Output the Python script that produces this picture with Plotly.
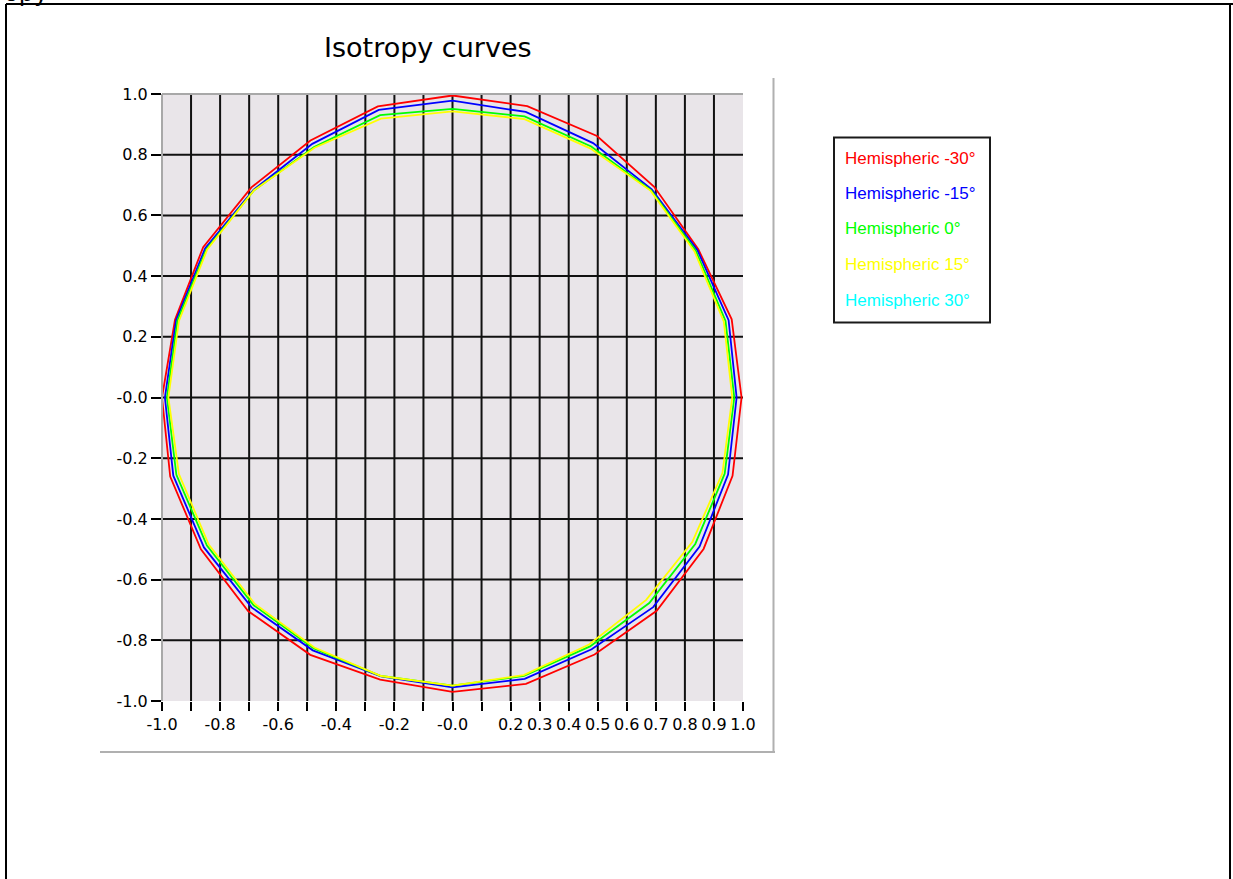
import numpy as np
import plotly.graph_objects as go

# ---------------- data ----------------
angles_deg = [0, 15, 30, 45, 60, 75, 90, 105, 120, 135, 150, 165,
              180, 195, 210, 225, 240, 255, 270, 285, 300, 315, 330, 345]

r_hemi_m30 = [0.995, 0.995, 0.977, 0.982, 0.995, 0.994, 0.995, 0.993, 0.978, 0.979, 0.991, 0.989,
              1.000, 1.006, 1.000, 0.995, 0.979, 0.962, 0.970, 0.977, 0.978, 0.994, 0.998, 0.998]
r_hemi_m15 = [0.978, 0.984, 0.973, 0.970, 0.968, 0.974, 0.978, 0.981, 0.965, 0.968, 0.983, 0.985,
              0.990, 0.995, 0.988, 0.978, 0.962, 0.951, 0.955, 0.960, 0.958, 0.977, 0.982, 0.982]
r_hemi_0 = [0.970, 0.973, 0.967, 0.966, 0.955, 0.959, 0.951, 0.963, 0.953, 0.966, 0.978, 0.980,
            0.983, 0.984, 0.976, 0.968, 0.955, 0.950, 0.949, 0.950, 0.947, 0.958, 0.965, 0.970]
r_hemi_p15 = [0.963, 0.967, 0.962, 0.964, 0.948, 0.950, 0.943, 0.951, 0.950, 0.966, 0.975, 0.975,
              0.978, 0.975, 0.969, 0.962, 0.951, 0.950, 0.949, 0.947, 0.940, 0.943, 0.953, 0.962]
r_hemi_p30 = []  # drawn nowhere in the reference

series_names = ["Hemispheric -30°", "Hemispheric -15°", "Hemispheric 0°",
                "Hemispheric 15°", "Hemispheric 30°"]
series_colors = ["#FF0000", "#0000FF", "#00FF00", "#FFFF00", "#00FFFF"]
series_radii = [r_hemi_m30, r_hemi_m15, r_hemi_0, r_hemi_p15, r_hemi_p30]

x_tick_vals = [-1.0, -0.9, -0.8, -0.7, -0.6, -0.5, -0.4, -0.3, -0.2, -0.1, 0.0,
               0.1, 0.2, 0.3, 0.4, 0.5, 0.6, 0.7, 0.8, 0.9, 1.0]
x_tick_text = ["-1.0", "", "-0.8", "", "-0.6", "", "-0.4", "", "-0.2", "", "-0.0",
               "", "0.2", "0.3", "0.4", "0.5", "0.6", "0.7", "0.8", "0.9", "1.0"]
y_tick_vals = [1.0, 0.8, 0.6, 0.4, 0.2, 0.0, -0.2, -0.4, -0.6, -0.8, -1.0]
y_tick_text = ["1.0", "0.8", "0.6", "0.4", "0.2", "-0.0", "-0.2", "-0.4", "-0.6", "-0.8", "-1.0"]

# ---------------- geometry ----------------
W, H = 1233, 879
PL, PR, PT, PB = 162, 743, 94, 701   # plot area in pixels
M = dict(l=PL, r=W - PR, t=PT, b=H - PB, pad=0, autoexpand=False)
PW, PH = PR - PL, PB - PT


def px(xp):
    return (xp - PL) / PW


def py(yp):
    return (PB - yp) / PH


fig = go.Figure()

for name, color, radii in zip(series_names, series_colors, series_radii):
    if len(radii):
        th = np.deg2rad(np.array(angles_deg + [angles_deg[0]], dtype=float))
        rr = np.array(list(radii) + [radii[0]])
        xs, ys = rr * np.cos(th), rr * np.sin(th)
    else:
        xs, ys = [], []
    fig.add_trace(go.Scatter(x=xs, y=ys, mode="lines", name=name,
                             line=dict(color=color, width=1.8), showlegend=False,
                             hoverinfo="x+y+name"))

shapes = []
# gridlines (interior only, like the reference)
for xv in x_tick_vals[1:-1]:
    shapes.append(dict(type="line", xref="x", yref="paper", x0=xv, x1=xv, y0=0, y1=1,
                       line=dict(color="#111111", width=2), layer="below"))
for yv in y_tick_vals[1:-1]:
    shapes.append(dict(type="line", xref="paper", yref="y", x0=0, x1=1, y0=yv, y1=yv,
                       line=dict(color="#111111", width=2), layer="below"))
# plot top / left sunken border
shapes.append(dict(type="line", xref="paper", yref="paper", x0=0, x1=1, y0=1, y1=1,
                   line=dict(color="#A8A8A8", width=2)))
shapes.append(dict(type="line", xref="paper", yref="paper", x0=0, x1=0, y0=0, y1=1,
                   line=dict(color="#A8A8A8", width=2)))
# chart panel border (bottom / right)
shapes.append(dict(type="line", xref="paper", yref="paper", x0=px(100), x1=px(775), y0=py(752), y1=py(752),
                   line=dict(color="#B0B0B0", width=2)))
shapes.append(dict(type="line", xref="paper", yref="paper", x0=px(773.5), x1=px(773.5), y0=py(78), y1=py(752),
                   line=dict(color="#B0B0B0", width=2)))
# outer window frame
shapes.append(dict(type="line", xref="paper", yref="paper", x0=px(6), x1=px(6), y0=py(4), y1=py(H + 5),
                   line=dict(color="#000000", width=2)))
shapes.append(dict(type="line", xref="paper", yref="paper", x0=px(6), x1=px(W + 5), y0=py(4), y1=py(4),
                   line=dict(color="#000000", width=2)))
shapes.append(dict(type="line", xref="paper", yref="paper", x0=px(1230), x1=px(1230), y0=py(4), y1=py(H + 5),
                   line=dict(color="#000000", width=2)))
# legend box
shapes.append(dict(type="rect", xref="paper", yref="paper", x0=px(834), x1=px(990), y0=py(137.5), y1=py(322.5),
                   line=dict(color="#1A1A1A", width=2), fillcolor="white"))

annotations = [
    dict(text="Isotropy curves", x=px(428), y=py(48), xref="paper", yref="paper",
         xanchor="center", yanchor="middle", showarrow=False,
         font=dict(family="DejaVu Sans", size=27, color="#000000")),
    # window caption above the frame: only the descenders of "py" peek in
    dict(text="Isotropy", x=px(50), y=py(9), xref="paper", yref="paper",
         xanchor="right", yanchor="bottom", showarrow=False,
         font=dict(family="DejaVu Sans", size=24, color="#000000")),
]
legend_rows = [158.5, 193.5, 229, 264.5, 300]
for name, color, yr in zip(series_names, series_colors, legend_rows):
    annotations.append(dict(text=name, x=px(843), y=py(yr), xref="paper", yref="paper",
                            xanchor="left", yanchor="middle", showarrow=False,
                            font=dict(family="Liberation Sans", size=17, color=color)))

fig.update_layout(
    width=W, height=H, margin=M,
    paper_bgcolor="white", plot_bgcolor="#E9E5E9",
    showlegend=False,
    shapes=shapes, annotations=annotations,
    xaxis=dict(range=[-1, 1], tickmode="array", tickvals=x_tick_vals, ticktext=x_tick_text,
               showgrid=False, zeroline=False, showline=False, ticks="outside",
               ticklen=9, tickwidth=2, tickcolor="#000000", tickangle=0,
               tickfont=dict(family="DejaVu Sans", size=16, color="#000000"), fixedrange=True),
    yaxis=dict(range=[-1, 1], tickmode="array", tickvals=y_tick_vals, ticktext=y_tick_text,
               showgrid=False, zeroline=False, showline=False, ticks="outside",
               ticklen=10, tickwidth=2, tickcolor="#000000",
               tickfont=dict(family="DejaVu Sans", size=16, color="#000000"), fixedrange=True),
)

fig.write_html("out.html", config={"displayModeBar": False},
               post_script="document.body.style.margin='0px';")
